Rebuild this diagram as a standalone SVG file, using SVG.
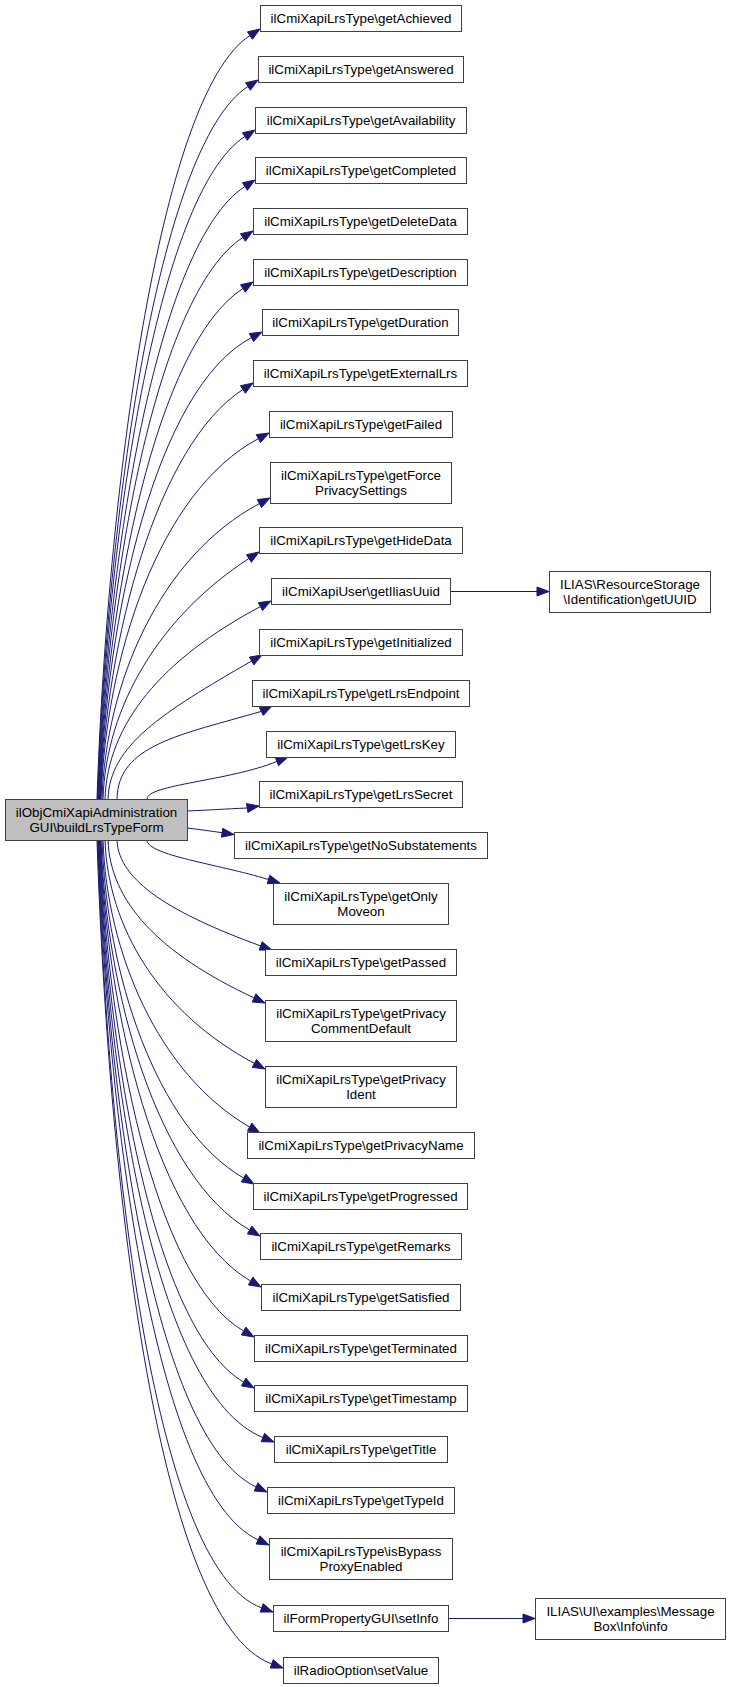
<svg xmlns="http://www.w3.org/2000/svg" width="731" height="1687" viewBox="0 0 731 1687">
<style>
.n rect{fill:#ffffff;stroke:#404040;stroke-width:1}
.m rect{fill:#bfbfbf;stroke:#404040;stroke-width:1}
text{font-family:'Liberation Sans',Arial,Helvetica,sans-serif;font-size:13.33px;fill:#000000;text-anchor:middle}
.e path{fill:none;stroke:#191970;stroke-width:1}
.e polygon{fill:#191970;stroke:#191970;stroke-width:1}
</style>
<rect x="0" y="0" width="731" height="1687" fill="#ffffff"/>
<g id="connectors" class="e">
<path d="M97,799 C106.9,501.2 157.6,95.5 249.9,35.5"/><polygon points="260,29 252.4,39.3 247.5,31.8"/>
<path d="M97.5,799 C106.8,521.1 157.1,145.5 247.9,86.5"/><polygon points="258,80 250.4,90.3 245.5,82.7"/>
<path d="M98,799 C106.6,540.6 156.2,194.1 244.9,136.5"/><polygon points="255,130 247.4,140.3 242.5,132.7"/>
<path d="M98.5,799 C106.5,560.1 156.5,243.9 244.9,186.5"/><polygon points="255,180 247.4,190.3 242.5,182.7"/>
<path d="M99,799 C106.3,580 156,293.9 242.9,237.5"/><polygon points="253,231 245.4,241.3 240.5,233.7"/>
<path d="M99.5,799 C106.1,599.9 156.3,344.7 242.9,288.5"/><polygon points="253,282 245.4,292.3 240.5,284.7"/>
<path d="M100,799 C106,619.1 155.2,388.8 251.4,337.6"/><polygon points="262,332 253.5,341.6 249.3,333.6"/>
<path d="M100.5,799 C105.8,639.3 156.9,445.3 242.9,389.5"/><polygon points="253,383 245.4,393.3 240.5,385.7"/>
<path d="M101,799 C105.7,658.4 158.4,491.8 258.4,438.6"/><polygon points="269,433 260.5,442.6 256.3,434.6"/>
<path d="M102,799 C105.8,683.8 159.4,556.8 259.4,503.6"/><polygon points="270,498 261.5,507.6 257.3,499.6"/>
<path d="M103,799 C106.1,705.2 160.8,615.7 248.9,558.5"/><polygon points="259,552 251.4,562.3 246.5,554.7"/>
<path d="M105,799 C107.5,724 161.6,659.1 260.4,606.6"/><polygon points="271,601 262.5,610.6 258.3,602.6"/>
<path d="M108,799 C109.8,745.2 162.1,712.7 251.6,661"/><polygon points="262,655 253.9,664.9 249.4,657.1"/>
<path d="M117,799 C118,745 180,735 261.3,711.4"/><polygon points="272,706 263.3,715.4 259.3,707.4"/>
<path d="M147,799 C147.5,784.4 228.2,781.2 276.9,761.5"/><polygon points="288,757 278.6,765.7 275.2,757.3"/>
<path d="M187,811 C210,810 225,809 247.2,808"/><polygon points="259,806 247.9,812.4 246.5,803.6"/>
<path d="M187,828 C200,829.5 210,831 222.1,832.7"/><polygon points="234,834.5 221.4,837.2 222.8,828.3"/>
<path d="M147,840 C147.5,855.4 217.1,863.8 268.5,879.5"/><polygon points="280,883 267.2,883.8 269.8,875.2"/>
<path d="M117,840 C118.4,881.3 172.8,913.9 260.7,945.9"/><polygon points="272,950 259.2,950.1 262.2,941.7"/>
<path d="M108,840 C110.1,901.6 158.8,953.4 254.1,997.9"/><polygon points="265,1003 252.2,1002 256,993.8"/>
<path d="M105,840 C107.9,927.1 159.4,1012.9 254.4,1063.4"/><polygon points="265,1069 252.3,1067.4 256.5,1059.4"/>
<path d="M103,840 C106.7,951.9 158.1,1074.2 249.6,1127"/><polygon points="260,1133 247.4,1130.9 251.9,1123.1"/>
<path d="M102,840 C106.4,971.8 155.3,1127 243.6,1178"/><polygon points="254,1184 241.4,1181.9 245.9,1174.1"/>
<path d="M101,840 C106.1,992.1 156.9,1176.5 249.6,1230"/><polygon points="260,1236 247.4,1233.9 251.9,1226.1"/>
<path d="M100.5,840 C106.2,1012 157,1226.9 250.6,1281"/><polygon points="261,1287 248.4,1284.9 252.9,1277.1"/>
<path d="M100,840 C106.4,1031.5 154.1,1279.3 243.6,1331"/><polygon points="254,1337 241.4,1334.9 245.9,1327.1"/>
<path d="M99.5,840 C106.5,1051.4 153.7,1330.1 243.6,1382"/><polygon points="254,1388 241.4,1385.9 245.9,1378.1"/>
<path d="M99,840 C106.8,1073 153.5,1393.3 262.9,1437.5"/><polygon points="274,1442 261.2,1441.7 264.6,1433.3"/>
<path d="M98.5,840 C106.9,1092.3 153.2,1438.9 256.1,1486.9"/><polygon points="267,1492 254.2,1491 258,1482.8"/>
<path d="M98,840 C107.1,1113 153.6,1491.2 258.1,1539.9"/><polygon points="269,1545 256.2,1544 260,1535.8"/>
<path d="M97.5,840 C107.5,1139.5 150.6,1567.5 261.7,1607.9"/><polygon points="273,1612 260.2,1612.1 263.2,1603.7"/>
<path d="M97,840 C107.7,1161.3 153.5,1620.9 271.7,1663.9"/><polygon points="283,1668 270.2,1668.1 273.2,1659.7"/>
<path d="M450,591.5 L537,591.5"/><polygon points="549,591.5 537,587 537,596"/>
<path d="M448,1618.5 L523,1618.5"/><polygon points="535,1618.5 523,1614 523,1623"/>
</g>
<g id="main" class="m"><rect x="5.5" y="799.5" width="182" height="41"/><text x="96.5" y="816.5">ilObjCmiXapiAdministration</text><text x="96.5" y="831.5">GUI\buildLrsTypeForm</text></g>
<g id="getAchieved" class="n"><rect x="260.5" y="5.5" width="201" height="26"/><text x="361" y="23">ilCmiXapiLrsType\getAchieved</text></g>
<g id="getAnswered" class="n"><rect x="258.5" y="56.5" width="205" height="26"/><text x="361" y="74">ilCmiXapiLrsType\getAnswered</text></g>
<g id="getAvailability" class="n"><rect x="255.5" y="107.5" width="211" height="26"/><text x="361" y="125">ilCmiXapiLrsType\getAvailability</text></g>
<g id="getCompleted" class="n"><rect x="255.5" y="157.5" width="211" height="26"/><text x="361" y="175">ilCmiXapiLrsType\getCompleted</text></g>
<g id="getDeleteData" class="n"><rect x="253.5" y="208.5" width="214" height="26"/><text x="360.5" y="226">ilCmiXapiLrsType\getDeleteData</text></g>
<g id="getDescription" class="n"><rect x="253.5" y="259.5" width="214" height="26"/><text x="360.5" y="277">ilCmiXapiLrsType\getDescription</text></g>
<g id="getDuration" class="n"><rect x="262.5" y="309.5" width="196" height="26"/><text x="360.5" y="327">ilCmiXapiLrsType\getDuration</text></g>
<g id="getExternalLrs" class="n"><rect x="253.5" y="360.5" width="214" height="26"/><text x="360.5" y="378">ilCmiXapiLrsType\getExternalLrs</text></g>
<g id="getFailed" class="n"><rect x="269.5" y="411.5" width="183" height="26"/><text x="361" y="429">ilCmiXapiLrsType\getFailed</text></g>
<g id="getForcePrivacySettings" class="n"><rect x="270.5" y="462.5" width="181" height="41"/><text x="361" y="480">ilCmiXapiLrsType\getForce</text><text x="361" y="494.5">PrivacySettings</text></g>
<g id="getHideData" class="n"><rect x="259.5" y="527.5" width="203" height="26"/><text x="361" y="545">ilCmiXapiLrsType\getHideData</text></g>
<g id="getIliasUuid" class="n"><rect x="271.5" y="578.5" width="179" height="26"/><text x="361" y="596">ilCmiXapiUser\getIliasUuid</text></g>
<g id="getInitialized" class="n"><rect x="259.5" y="629.5" width="203" height="26"/><text x="361" y="647">ilCmiXapiLrsType\getInitialized</text></g>
<g id="getLrsEndpoint" class="n"><rect x="252.5" y="680.5" width="217" height="26"/><text x="361" y="698">ilCmiXapiLrsType\getLrsEndpoint</text></g>
<g id="getLrsKey" class="n"><rect x="266.5" y="731.5" width="189" height="26"/><text x="361" y="749">ilCmiXapiLrsType\getLrsKey</text></g>
<g id="getLrsSecret" class="n"><rect x="259.5" y="781.5" width="203" height="26"/><text x="361" y="799">ilCmiXapiLrsType\getLrsSecret</text></g>
<g id="getNoSubstatements" class="n"><rect x="234.5" y="832.5" width="253" height="26"/><text x="361" y="850">ilCmiXapiLrsType\getNoSubstatements</text></g>
<g id="getOnlyMoveon" class="n"><rect x="273.5" y="883.5" width="175" height="41"/><text x="361" y="901">ilCmiXapiLrsType\getOnly</text><text x="361" y="915.5">Moveon</text></g>
<g id="getPassed" class="n"><rect x="265.5" y="949.5" width="191" height="26"/><text x="361" y="967">ilCmiXapiLrsType\getPassed</text></g>
<g id="getPrivacyCommentDefault" class="n"><rect x="265.5" y="1000.5" width="191" height="41"/><text x="361" y="1018">ilCmiXapiLrsType\getPrivacy</text><text x="361" y="1032.5">CommentDefault</text></g>
<g id="getPrivacyIdent" class="n"><rect x="265.5" y="1066.5" width="191" height="41"/><text x="361" y="1084">ilCmiXapiLrsType\getPrivacy</text><text x="361" y="1098.5">Ident</text></g>
<g id="getPrivacyName" class="n"><rect x="247.5" y="1132.5" width="227" height="26"/><text x="361" y="1150">ilCmiXapiLrsType\getPrivacyName</text></g>
<g id="getProgressed" class="n"><rect x="253.5" y="1183.5" width="214" height="26"/><text x="360.5" y="1201">ilCmiXapiLrsType\getProgressed</text></g>
<g id="getRemarks" class="n"><rect x="260.5" y="1233.5" width="201" height="26"/><text x="361" y="1251">ilCmiXapiLrsType\getRemarks</text></g>
<g id="getSatisfied" class="n"><rect x="261.5" y="1284.5" width="199" height="26"/><text x="361" y="1302">ilCmiXapiLrsType\getSatisfied</text></g>
<g id="getTerminated" class="n"><rect x="254.5" y="1335.5" width="213" height="26"/><text x="361" y="1353">ilCmiXapiLrsType\getTerminated</text></g>
<g id="getTimestamp" class="n"><rect x="254.5" y="1385.5" width="213" height="26"/><text x="361" y="1403">ilCmiXapiLrsType\getTimestamp</text></g>
<g id="getTitle" class="n"><rect x="274.5" y="1436.5" width="173" height="26"/><text x="361" y="1454">ilCmiXapiLrsType\getTitle</text></g>
<g id="getTypeId" class="n"><rect x="267.5" y="1487.5" width="187" height="26"/><text x="361" y="1505">ilCmiXapiLrsType\getTypeId</text></g>
<g id="isBypassProxyEnabled" class="n"><rect x="269.5" y="1538.5" width="183" height="41"/><text x="361" y="1556">ilCmiXapiLrsType\isBypass</text><text x="361" y="1570.5">ProxyEnabled</text></g>
<g id="setInfo" class="n"><rect x="273.5" y="1605.5" width="175" height="26"/><text x="361" y="1623">ilFormPropertyGUI\setInfo</text></g>
<g id="setValue" class="n"><rect x="283.5" y="1657.5" width="155" height="26"/><text x="361" y="1675">ilRadioOption\setValue</text></g>
<g id="getUUID" class="n"><rect x="549.5" y="571.5" width="161" height="41"/><text x="630" y="589">ILIAS\ResourceStorage</text><text x="630" y="603.5">\Identification\getUUID</text></g>
<g id="info" class="n"><rect x="535.5" y="1598.5" width="190" height="41"/><text x="630.5" y="1616">ILIAS\UI\examples\Message</text><text x="630.5" y="1630.5">Box\Info\info</text></g>
</svg>
